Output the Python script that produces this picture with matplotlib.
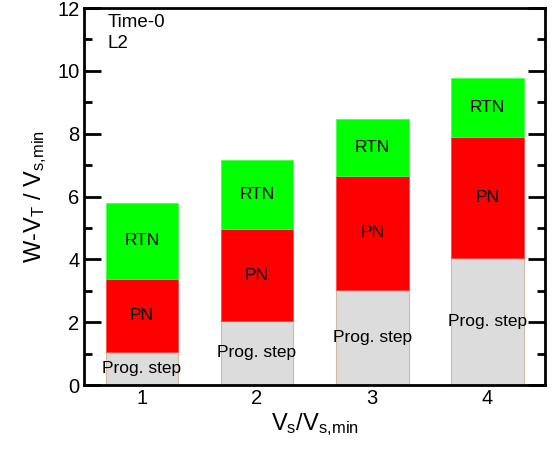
import numpy as np
import matplotlib
matplotlib.use("Agg")
from matplotlib import pyplot as plt
from matplotlib.ticker import MultipleLocator

plt.rcParams['font.family'] = ['Liberation Sans', 'DejaVu Sans']
plt.rcParams['mathtext.fontset'] = 'custom'
plt.rcParams['mathtext.rm'] = 'Liberation Sans'
plt.rcParams['mathtext.it'] = 'Liberation Sans'

# data
ratio = [1, 2, 3, 4]
prog_step = [1.04, 2.04, 3.04, 4.03]
pn = [2.33, 2.92, 3.61, 3.87]
rtn = [2.44, 2.20, 1.81, 1.86]

fig = plt.figure(figsize=(5.54, 4.49), dpi=100)
ax = fig.add_axes([0.152, 0.1425, 0.832, 0.8395])

x = np.array(ratio)
w = 0.63
ax.bar(x, prog_step, w, color='#dcdcdc', edgecolor='#d2b8a0', lw=0.8)
ax.bar(x, pn, w, bottom=prog_step, color='#ff0000', edgecolor='#ff4040', lw=0.5)
bot3 = np.array(prog_step) + np.array(pn)
ax.bar(x, rtn, w, bottom=bot3, color='#00ff00', edgecolor='#40ff40', lw=0.5)

for i in range(len(x)):
    ax.text(x[i], prog_step[i] / 2, 'Prog. step', ha='center', va='center', fontsize=12.5)
    ax.text(x[i], prog_step[i] + pn[i] / 2, 'PN', ha='center', va='center', fontsize=12.5)
    ax.text(x[i], bot3[i] + rtn[i] / 2, 'RTN', ha='center', va='center', fontsize=12.5)

ax.set_xlim(0.5, 4.5)
ax.set_ylim(0, 12)
ax.set_xticks(ratio)
ax.yaxis.set_major_locator(MultipleLocator(2))
ax.yaxis.set_minor_locator(MultipleLocator(1))
ax.tick_params(axis='x', length=0, labelsize=14.5, pad=3)
ax.tick_params(axis='y', which='major', direction='in', length=12, width=2,
               right=True, labelsize=14.5)
ax.tick_params(axis='y', which='minor', direction='in', length=6, width=2, right=True)
for s in ax.spines.values():
    s.set_linewidth(2)

ax.set_xlabel(r'V$_\mathregular{s}$/V$_\mathregular{s{,}min}$', fontsize=17, labelpad=2)
ax.set_ylabel(r'W-V$_\mathregular{T}$ / V$_\mathregular{s{,}min}$', fontsize=17, labelpad=6)

ax.text(0.05, 0.985, 'Time-0\nL2', transform=ax.transAxes, ha='left', va='top',
        fontsize=13.5, linespacing=1.3)

fig.savefig('out.png', dpi=100)
